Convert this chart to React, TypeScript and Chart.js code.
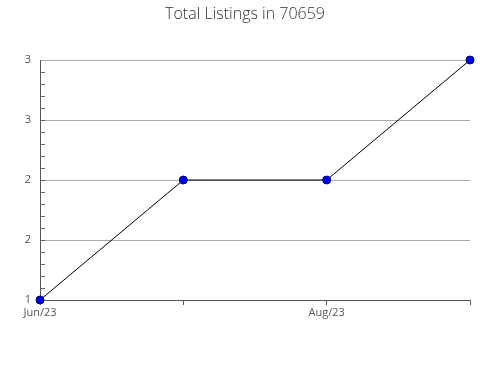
import React, { useEffect, useRef } from "react";
import { Chart, registerables } from "chart.js";

Chart.register(...registerables);

const categories = ["Jun/23", "Jul/23", "Aug/23", "Sep/23"];
const listings = [1, 2, 2, 3];
const shownLabels = ["Jun/23", "", "Aug/23", ""];
const yMin = 1;
const yMax = 3;
const yStep = 0.5;
const yMinorStep = 0.1;

const minorTicks = {
  id: "minorTicks",
  afterDraw(chart: any) {
    const y = chart.scales.y;
    const { ctx, chartArea } = chart;
    ctx.save();
    ctx.strokeStyle = "#666";
    ctx.lineWidth = 1;
    const n = Math.round((yMax - yMin) / yMinorStep);
    for (let i = 1; i < n; i++) {
      const v = yMin + i * yMinorStep;
      const py = Math.round(y.getPixelForValue(v)) + 0.5;
      ctx.beginPath();
      ctx.moveTo(chartArea.left, py);
      ctx.lineTo(chartArea.left + 5, py);
      ctx.stroke();
    }
    ctx.restore();
  },
};

export default function App() {
  const ref = useRef<HTMLCanvasElement>(null);
  useEffect(() => {
    document.body.style.margin = "0";
    const chart = new Chart(ref.current!, {
      type: "line",
      data: {
        labels: categories,
        datasets: [
          {
            data: listings,
            borderColor: "#000",
            borderWidth: 1,
            pointBackgroundColor: "#0000ff",
            pointBorderColor: "#000066",
            pointBorderWidth: 1,
            pointRadius: 4,
            tension: 0,
            clip: false as any,
          },
        ],
      },
      options: {
        animation: false,
        responsive: false,
        layout: { padding: { left: 20, right: 20, top: 0, bottom: 0 } },
        plugins: {
          legend: { display: false },
          tooltip: { enabled: false },
          title: {
            display: true,
            text: "Total Listings in 70659",
            color: "#333",
            font: { family: "'Open Sans', sans-serif", size: 16, weight: "300" as any },
            padding: { top: 5, bottom: 35.8 },
          },
        },
        scales: {
          x: {
            type: "category",
            offset: false,
            afterFit(scale: any) {
              scale.height = 80;
            },
            grid: {
              drawOnChartArea: false,
              drawTicks: true,
              tickLength: 5,
              tickColor: "#555",
            },
            border: { color: "#555", width: 1 },
            ticks: {
              autoSkip: false,
              maxRotation: 0,
              padding: 1,
              color: "#555",
              font: { family: "'Open Sans', sans-serif", size: 11 },
              callback: (_v: any, i: number) => shownLabels[i],
            },
          },
          y: {
            min: yMin,
            max: yMax,
            afterFit(scale: any) {
              scale.width = 20;
            },
            grid: {
              color: "#aaa",
              drawTicks: false,
              tickLength: 0,
            },
            border: { color: "#555", width: 1 },
            ticks: {
              stepSize: yStep,
              padding: 9,
              color: "#555",
              font: { family: "'Open Sans', sans-serif", size: 11 },
              callback: (v: any) => String(Math.round(Number(v))),
            },
          },
        },
      },
      plugins: [minorTicks],
    });
    return () => chart.destroy();
  }, []);
  return (
    <div style={{ width: 490, height: 380 }}>
      <canvas ref={ref} width={490} height={380} style={{ display: "block" }} />
    </div>
  );
}
